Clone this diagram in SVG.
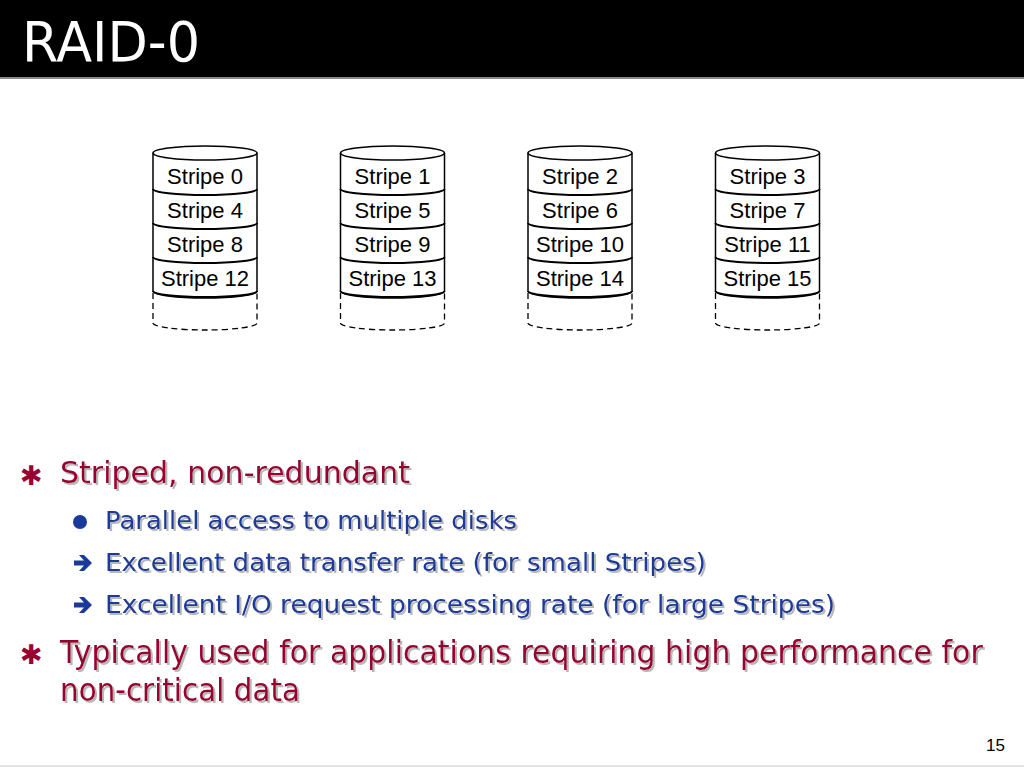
<svg xmlns="http://www.w3.org/2000/svg" width="1024" height="768" viewBox="0 0 1024 768">
<style>
.cyl{fill:#fff;stroke:#000;stroke-width:1.5}
.sep{fill:none;stroke:#000;stroke-width:2}
.dash{fill:none;stroke:#000;stroke-width:1.3;stroke-dasharray:6 4}
.lbl{font-family:"Liberation Sans",Arial,sans-serif;font-size:22px;fill:#000;text-anchor:middle}
.red{font-family:"DejaVu Sans",Tahoma,sans-serif;fill:#990033}
.blue{font-family:"DejaVu Sans",Tahoma,sans-serif;fill:#1a3a99}
.ast{font-family:"DejaVu Sans",sans-serif;font-size:27px;font-weight:bold;fill:#990033}
.arr{fill:#1a3a99}
</style>
<defs>
<filter id="sh" filterUnits="userSpaceOnUse" x="0" y="0" width="1024" height="768">
<feDropShadow dx="2" dy="2" stdDeviation="0.6" flood-color="#b8b8b8" flood-opacity="1"/>
</filter>
<g id="cyl">
<path class="cyl" d="M-52,153 L-52,291 A52,7 0 0 0 52,291 L52,153"/>
<ellipse class="cyl" cx="0" cy="153" rx="52" ry="7"/>
<path class="sep" d="M-52,189 A52,6 0 0 0 52,189 M-52,223 A52,6 0 0 0 52,223 M-52,257 A52,6 0 0 0 52,257 M-52,291 A52,6 0 0 0 52,291"/>
<path class="dash" d="M-52,293 L-52,323 A52,7 0 0 0 52,323 L52,293"/>
</g>
<path id="arrow" d="M0,-2.5 L10,-2.5 L5,-8 L10,-8 L18,0 L10,8 L5,8 L10,2.5 L0,2.5 Z"/>
</defs>
<rect x="0" y="0" width="1024" height="768" fill="#fff"/>
<rect x="0" y="0" width="1024" height="77" fill="#000"/>
<rect x="0" y="77" width="1024" height="2" fill="#8a8a8a"/>
<text x="22" y="61" font-family="'DejaVu Sans',Tahoma,sans-serif" font-size="55" fill="#fff" textLength="178" lengthAdjust="spacingAndGlyphs">RAID-0</text>

<g id="disk0" transform="translate(205,0)">
<use href="#cyl"/>
<text class="lbl" x="0" y="184">Stripe 0</text>
<text class="lbl" x="0" y="218">Stripe 4</text>
<text class="lbl" x="0" y="252">Stripe 8</text>
<text class="lbl" x="0" y="286">Stripe 12</text>
</g>
<g id="disk1" transform="translate(392.5,0)">
<use href="#cyl"/>
<text class="lbl" x="0" y="184">Stripe 1</text>
<text class="lbl" x="0" y="218">Stripe 5</text>
<text class="lbl" x="0" y="252">Stripe 9</text>
<text class="lbl" x="0" y="286">Stripe 13</text>
</g>
<g id="disk2" transform="translate(580,0)">
<use href="#cyl"/>
<text class="lbl" x="0" y="184">Stripe 2</text>
<text class="lbl" x="0" y="218">Stripe 6</text>
<text class="lbl" x="0" y="252">Stripe 10</text>
<text class="lbl" x="0" y="286">Stripe 14</text>
</g>
<g id="disk3" transform="translate(767.5,0)">
<use href="#cyl"/>
<text class="lbl" x="0" y="184">Stripe 3</text>
<text class="lbl" x="0" y="218">Stripe 7</text>
<text class="lbl" x="0" y="252">Stripe 11</text>
<text class="lbl" x="0" y="286">Stripe 15</text>
</g>

<g id="bullets">
<text class="ast" x="20" y="485">✱</text>
<circle cx="80" cy="522" r="7" fill="#1a3a99"/>
<use href="#arrow" class="arr" transform="translate(74,563)"/>
<use href="#arrow" class="arr" transform="translate(74,605)"/>
<text class="ast" x="20" y="664">✱</text>
<g filter="url(#sh)">
<text class="red" x="60" y="483" font-size="31" textLength="350" lengthAdjust="spacingAndGlyphs">Striped, non-redundant</text>
<text class="blue" x="105" y="529" font-size="25" textLength="412" lengthAdjust="spacingAndGlyphs">Parallel access to multiple disks</text>
<text class="blue" x="105" y="571" font-size="25" textLength="601" lengthAdjust="spacingAndGlyphs">Excellent data transfer rate (for small Stripes)</text>
<text class="blue" x="105" y="613" font-size="25" textLength="730" lengthAdjust="spacingAndGlyphs">Excellent I/O request processing rate (for large Stripes)</text>
<text class="red" transform="translate(60,663) scale(0.78,1)" x="0" y="0" font-size="32" textLength="1183" lengthAdjust="spacingAndGlyphs">Typically used for applications requiring high performance for</text>
<text class="red" x="60" y="701" font-size="32" textLength="240" lengthAdjust="spacingAndGlyphs">non-critical data</text>
</g>
</g>
<text x="1005" y="751" font-family="'Liberation Sans',Arial,sans-serif" font-size="17" fill="#000" text-anchor="end">15</text>
<rect x="0" y="765" width="1024" height="2" fill="#e4e4e4"/>
</svg>
